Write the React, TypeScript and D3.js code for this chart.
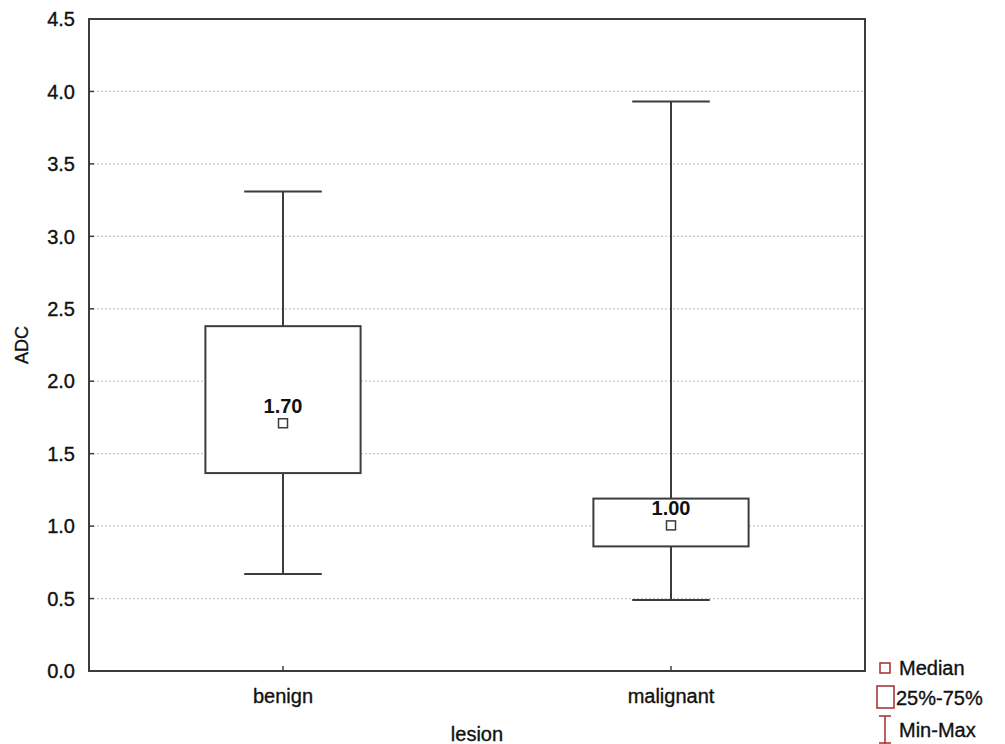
import React, { useEffect, useRef } from 'react'
import * as d3 from 'd3'

// values
const categories = ['benign', 'malignant']
const mins = [0.67, 0.49]
const q1s = [1.366, 0.86]
const medians = [1.71, 1.005]
const q3s = [2.38, 1.19]
const maxs = [3.31, 3.93]
const medianLabels = ['1.70', '1.00']
const yTicks = [0, 0.5, 1, 1.5, 2, 2.5, 3, 3.5, 4, 4.5]
const legendItems = ['Median', '25%-75%', 'Min-Max']

export default function App() {
  const svgRef = useRef<SVGSVGElement>(null)

  useEffect(() => {
    document.body.style.margin = '0'
    document.body.style.overflow = 'hidden'
    if (!svgRef.current) return
    const svg = d3.select(svgRef.current)
    svg.selectAll('*').remove()

    const W = 1005
    const H = 744
    const margin = { top: 19, right: 140, bottom: 73, left: 89 }
    const width = W - margin.left - margin.right
    const height = H - margin.top - margin.bottom
    const font = 'Liberation Sans, Arial, sans-serif'
    const ink = '#3c3c3c'
    const red = '#a8383c'

    svg.attr('width', W).attr('height', H)
    const g = svg.append('g').attr('transform', `translate(${margin.left},${margin.top})`)

    const x = d3.scaleBand().domain(categories).range([0, width])
    const y = d3.scaleLinear().domain([0, 4.5]).range([height, 0])

    const txt = (sel: d3.Selection<SVGTextElement, unknown, null, undefined>, size: number) =>
      sel
        .style('font-family', font)
        .style('font-size', `${size}px`)
        .style('fill', '#111')
        .style('stroke', '#111')
        .style('stroke-width', '0.35px')

    // grid
    g.selectAll('.grid')
      .data(yTicks.slice(1, -1))
      .enter().append('line')
      .attr('x1', 0).attr('x2', width)
      .attr('y1', d => y(d)).attr('y2', d => y(d))
      .attr('stroke', '#c8c8c8')
      .attr('stroke-width', 1.2)
      .attr('stroke-dasharray', '2,2')

    // y axis ticks (inward) and labels
    yTicks.forEach(t => {
      g.append('line')
        .attr('x1', 0).attr('x2', 5)
        .attr('y1', y(t)).attr('y2', y(t))
        .attr('stroke', ink).attr('stroke-width', 1.5)
      txt(g.append('text')
        .attr('x', -14).attr('y', y(t))
        .attr('dy', '0.36em')
        .attr('text-anchor', 'end'), 20)
        .text(t.toFixed(1))
    })

    // x labels
    categories.forEach(c => {
      const cx = (x(c) || 0) + x.bandwidth() / 2
      g.append('line')
        .attr('x1', cx).attr('x2', cx)
        .attr('y1', height).attr('y2', height - 5)
        .attr('stroke', ink).attr('stroke-width', 1.5)
      txt(g.append('text')
        .attr('x', cx).attr('y', height + 32)
        .attr('text-anchor', 'middle'), 20)
        .text(c)
    })

    // axis titles
    txt(g.append('text')
      .attr('x', width / 2).attr('y', height + 70)
      .attr('text-anchor', 'middle'), 20)
      .text('lesion')

    txt(g.append('text')
      .attr('transform', `translate(${-61},${height / 2}) rotate(-90)`)
      .attr('text-anchor', 'middle'), 18)
      .text('ADC')

    // boxes
    const boxW = x.bandwidth() * 0.4
    const capW = boxW / 2
    categories.forEach((c, i) => {
      const cx = (x(c) || 0) + x.bandwidth() / 2
      const bg = g.append('g')
      bg.append('line')
        .attr('x1', cx).attr('x2', cx)
        .attr('y1', y(maxs[i])).attr('y2', y(q3s[i]))
        .attr('stroke', ink).attr('stroke-width', 2)
      bg.append('line')
        .attr('x1', cx).attr('x2', cx)
        .attr('y1', y(q1s[i])).attr('y2', y(mins[i]))
        .attr('stroke', ink).attr('stroke-width', 2)
      ;[maxs[i], mins[i]].forEach(v => {
        bg.append('line')
          .attr('x1', cx - capW / 2).attr('x2', cx + capW / 2)
          .attr('y1', y(v)).attr('y2', y(v))
          .attr('stroke', ink).attr('stroke-width', 2)
      })
      bg.append('rect')
        .attr('x', cx - boxW / 2).attr('y', y(q3s[i]))
        .attr('width', boxW).attr('height', y(q1s[i]) - y(q3s[i]))
        .attr('fill', 'white')
        .attr('stroke', ink).attr('stroke-width', 2)
      bg.append('rect')
        .attr('x', cx - 4.5).attr('y', y(medians[i]) - 4.5)
        .attr('width', 9).attr('height', 9)
        .attr('fill', 'white')
        .attr('stroke', ink).attr('stroke-width', 1.5)
      txt(bg.append('text')
        .attr('x', cx).attr('y', y(medians[i]) - 10)
        .attr('text-anchor', 'middle'), 20)
        .style('font-weight', 'bold')
        .style('stroke-width', '0px')
        .text(medianLabels[i])
    })

    // frame
    g.append('rect')
      .attr('x', 0).attr('y', 0)
      .attr('width', width).attr('height', height)
      .attr('fill', 'none')
      .attr('stroke', ink).attr('stroke-width', 2)

    // legend
    const lg = svg.append('g').attr('transform', 'translate(877,0)')
    lg.append('rect')
      .attr('x', 3).attr('y', 663).attr('width', 10).attr('height', 10)
      .attr('fill', 'white').attr('stroke', red).attr('stroke-width', 1.6)
    lg.append('rect')
      .attr('x', 0).attr('y', 686).attr('width', 17).attr('height', 22)
      .attr('fill', 'white').attr('stroke', red).attr('stroke-width', 1.6)
    lg.append('line')
      .attr('x1', 8).attr('x2', 8).attr('y1', 716).attr('y2', 744)
      .attr('stroke', red).attr('stroke-width', 1.6)
    lg.append('line')
      .attr('x1', 2).attr('x2', 14).attr('y1', 716).attr('y2', 716)
      .attr('stroke', red).attr('stroke-width', 1.6)
    lg.append('line')
      .attr('x1', 2).attr('x2', 14).attr('y1', 743).attr('y2', 743)
      .attr('stroke', red).attr('stroke-width', 1.6)
    const ly = [668, 698, 730]
    legendItems.forEach((t, i) => {
      txt(lg.append('text')
        .attr('x', i === 1 ? 19 : 22).attr('y', ly[i])
        .attr('dy', '0.36em'), 20)
        .text(t)
    })
  }, [])

  return (
    <div>
      <svg ref={svgRef} style={{ display: 'block' }}></svg>
    </div>
  )
}
